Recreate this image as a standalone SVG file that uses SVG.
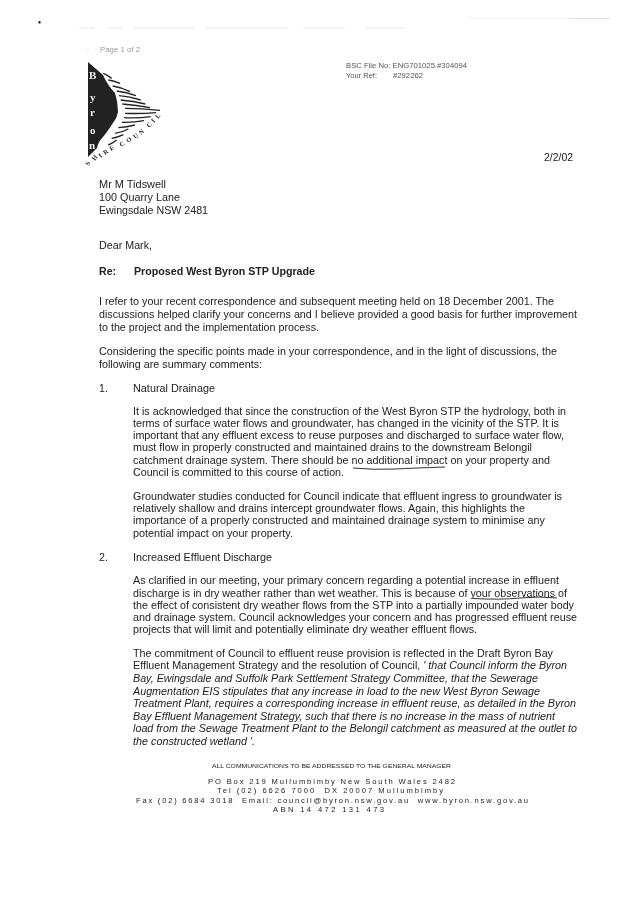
<svg xmlns="http://www.w3.org/2000/svg" width="637" height="901" viewBox="0 0 637 901">
<style>
text{font-family:"Liberation Sans",Arial,sans-serif;fill:#222;font-size:10.6px}
.s{font-size:7.2px;fill:#555}
.p{font-size:7.6px;fill:#999}
.f{font-size:7.6px;fill:#222}
.c{font-size:5.8px;fill:#222}
.b{font-weight:bold}
.i{font-style:italic}
.l{font-family:"Liberation Serif",serif;font-weight:bold;font-size:11px;fill:#eee}
.k{font-family:"Liberation Serif",serif;font-weight:bold;font-size:6.5px;fill:#222}
.st{stroke:#333;fill:none;stroke-width:1}
.sc{stroke:#dcdcdc;fill:none;stroke-width:.7}
</style>
<defs><filter id="soft" x="0" y="0" width="100%" height="100%"><feGaussianBlur stdDeviation="0.3"/></filter></defs>
<rect width="637" height="901" fill="#fff"/>
<g filter="url(#soft)">
<g id="scan-marks">
<rect x="38.500" y="21" width="2" height="2.500" fill="#222"/>
<path class="sc" d="M79 28H95M108 28H122M134 28H195M205 28H288M303 28H345M366 28H406M467 18H568"/>
<path class="sc" style="stroke:#aaa" d="M569 18H610"/>
</g>
<g id="logo">
<text x="100" y="52" class="p" textLength="40" lengthAdjust="spacingAndGlyphs">Page 1 of 2</text>
<path class="sc" d="M86 51H89M95 51L98 49"/>
<path d="M88 62L103 75Q108 86 115 93Q118 102 118 112Q117 118 113 123Q107 132 103 137Q98 142 97 148Q92 153 88 157Z" fill="#222"/>
<g transform="translate(70 30) scale(.3333)" stroke="#222" stroke-width="4.200" fill="none">
<path d="M100 130Q112 135 125 145M115 150Q132 152 150 160M128 168Q155 172 180 185M140 183Q170 187 198 197M147 197Q180 200 212 210M152 210Q190 213 226 222M157 222Q200 225 240 233M165 235Q215 235 270 241M165 250Q210 252 258 248M162 263Q205 265 242 260M156 277Q190 278 222 272M145 293Q170 292 195 285M135 310Q155 308 175 297M125 325Q142 323 160 314M115 345Q128 340 140 330"/>
</g>
<text x="89" y="79" class="l">B</text>
<text x="90" y="101" class="l">y</text>
<text x="90" y="116" class="l">r</text>
<text x="90" y="134" class="l">o</text>
<text x="89" y="149" class="l">n</text>
<text transform="translate(89 166) rotate(-65)" class="k">S</text>
<text transform="translate(95 161) rotate(-55)" class="k">H</text>
<text transform="translate(101 158) rotate(-45)" class="k">I</text>
<text transform="translate(105 155) rotate(-35)" class="k">R</text>
<text transform="translate(111 151) rotate(-30)" class="k">E</text>
<text transform="translate(121 147) rotate(-30)" class="k">C</text>
<text transform="translate(128 143) rotate(-35)" class="k">O</text>
<text transform="translate(135 139) rotate(-35)" class="k">U</text>
<text transform="translate(141 135) rotate(-40)" class="k">N</text>
<text transform="translate(149 128) rotate(-45)" class="k">C</text>
<text transform="translate(154 123) rotate(-50)" class="k">I</text>
<text transform="translate(158 119) rotate(-50)" class="k">L</text>
</g>
<g id="reference">
<text x="346" y="68" class="s" textLength="121" lengthAdjust="spacingAndGlyphs">BSC File No: ENG701025 #304094</text>
<text x="346" y="77.500" class="s" textLength="31" lengthAdjust="spacingAndGlyphs">Your Ref:</text>
<text x="393" y="77.500" class="s" textLength="30" lengthAdjust="spacingAndGlyphs">#292262</text>
<text x="544" y="161" textLength="29" lengthAdjust="spacingAndGlyphs">2/2/02</text>
</g>
<g id="address">
<text x="99" y="188" textLength="67" lengthAdjust="spacingAndGlyphs">Mr M Tidswell</text>
<text x="99" y="201" textLength="81" lengthAdjust="spacingAndGlyphs">100 Quarry Lane</text>
<text x="99" y="214" textLength="109" lengthAdjust="spacingAndGlyphs">Ewingsdale NSW 2481</text>
<text x="99" y="249" textLength="53" lengthAdjust="spacingAndGlyphs">Dear Mark,</text>
<text x="99" y="275" class="b">Re:</text>
<text x="134" y="275" class="b" textLength="181" lengthAdjust="spacingAndGlyphs">Proposed West Byron STP Upgrade</text>
</g>
<g id="body">
<text x="99" y="305" textLength="455" lengthAdjust="spacingAndGlyphs">I refer to your recent correspondence and subsequent meeting held on 18 December 2001. The</text>
<text x="99" y="318" textLength="478" lengthAdjust="spacingAndGlyphs">discussions helped clarify your concerns and I believe provided a good basis for further improvement</text>
<text x="99" y="330.500" textLength="220" lengthAdjust="spacingAndGlyphs">to the project and the implementation process.</text>
<text x="99" y="355" textLength="458" lengthAdjust="spacingAndGlyphs">Considering the specific points made in your correspondence, and in the light of discussions, the</text>
<text x="99" y="367.500" textLength="163" lengthAdjust="spacingAndGlyphs">following are summary comments:</text>
<text x="99" y="392">1.</text>
<text x="133" y="392" textLength="82" lengthAdjust="spacingAndGlyphs">Natural Drainage</text>
<text x="133" y="415" textLength="433" lengthAdjust="spacingAndGlyphs">It is acknowledged that since the construction of the West Byron STP the hydrology, both in</text>
<text x="133" y="426.500" textLength="426" lengthAdjust="spacingAndGlyphs">terms of surface water flows and groundwater, has changed in the vicinity of the STP. It is</text>
<text x="133" y="439" textLength="431" lengthAdjust="spacingAndGlyphs">important that any effluent excess to reuse purposes and discharged to surface water flow,</text>
<text x="133" y="451" textLength="399" lengthAdjust="spacingAndGlyphs">must flow in properly constructed and maintained drains to the downstream Belongil</text>
<text x="133" y="464" textLength="417" lengthAdjust="spacingAndGlyphs">catchment drainage system. There should be no additional impact on your property and</text>
<text x="133" y="476" textLength="211" lengthAdjust="spacingAndGlyphs">Council is committed to this course of action.</text>
<path class="st" d="M353 468Q375 470 395 469T445 467"/>
<text x="133" y="500" textLength="429" lengthAdjust="spacingAndGlyphs">Groundwater studies conducted for Council indicate that effluent ingress to groundwater is</text>
<text x="133" y="512" textLength="392" lengthAdjust="spacingAndGlyphs">relatively shallow and drains intercept groundwater flows. Again, this highlights the</text>
<text x="133" y="524" textLength="412" lengthAdjust="spacingAndGlyphs">importance of a properly constructed and maintained drainage system to minimise any</text>
<text x="133" y="537" textLength="160" lengthAdjust="spacingAndGlyphs">potential impact on your property.</text>
<text x="99" y="561">2.</text>
<text x="133" y="561" textLength="139" lengthAdjust="spacingAndGlyphs">Increased Effluent Discharge</text>
<text x="133" y="584" textLength="426" lengthAdjust="spacingAndGlyphs">As clarified in our meeting, your primary concern regarding a potential increase in effluent</text>
<text x="133" y="597" textLength="434" lengthAdjust="spacingAndGlyphs">discharge is in dry weather rather than wet weather. This is because of your observations of</text>
<text x="133" y="608.500" textLength="441" lengthAdjust="spacingAndGlyphs">the effect of consistent dry weather flows from the STP into a partially impounded water body</text>
<text x="133" y="621" textLength="444" lengthAdjust="spacingAndGlyphs">and drainage system. Council acknowledges your concern and has progressed effluent reuse</text>
<text x="133" y="633" textLength="344" lengthAdjust="spacingAndGlyphs">projects that will limit and potentially eliminate dry weather effluent flows.</text>
<path class="st" d="M473 598.500Q500 600 520 598T557 598"/>
<text x="133" y="657" textLength="420" lengthAdjust="spacingAndGlyphs">The commitment of Council to effluent reuse provision is reflected in the Draft Byron Bay</text>
<text x="133" y="669" textLength="434" lengthAdjust="spacingAndGlyphs">Effluent Management Strategy and the resolution of Council, <tspan class="i">' that Council inform the Byron</tspan></text>
<text x="133" y="682" class="i" textLength="405" lengthAdjust="spacingAndGlyphs">Bay, Ewingsdale and Suffolk Park Settlement Strategy Committee, that the Sewerage</text>
<text x="133" y="695" class="i" textLength="407" lengthAdjust="spacingAndGlyphs">Augmentation EIS stipulates that any increase in load to the new West Byron Sewage</text>
<text x="133" y="707" class="i" textLength="443" lengthAdjust="spacingAndGlyphs">Treatment Plant, requires a corresponding increase in effluent reuse, as detailed in the Byron</text>
<text x="133" y="720" class="i" textLength="422" lengthAdjust="spacingAndGlyphs">Bay Effluent Management Strategy, such that there is no increase in the mass of nutrient</text>
<text x="133" y="732" class="i" textLength="444" lengthAdjust="spacingAndGlyphs">load from the Sewage Treatment Plant to the Belongil catchment as measured at the outlet to</text>
<text x="133" y="745" class="i" textLength="122" lengthAdjust="spacingAndGlyphs">the constructed wetland '.</text>
</g>
<g id="footer">
<text x="212" y="768" class="c" textLength="239" lengthAdjust="spacingAndGlyphs">ALL COMMUNICATIONS TO BE ADDRESSED TO THE GENERAL MANAGER</text>
<text x="208" y="784" class="f" textLength="247">PO Box 219 Mullumbimby New South Wales 2482</text>
<text x="217" y="793" class="f" textLength="226" xml:space="preserve">Tel (02) 6626 7000  DX 20007 Mullumbimby</text>
<text x="136" y="803" class="f" textLength="392" xml:space="preserve">Fax (02) 6684 3018  Email: council@byron.nsw.gov.au  www.byron.nsw.gov.au</text>
<text x="273" y="811.500" class="f" textLength="111">ABN 14 472 131 473</text>
</g>
</g>
</svg>
